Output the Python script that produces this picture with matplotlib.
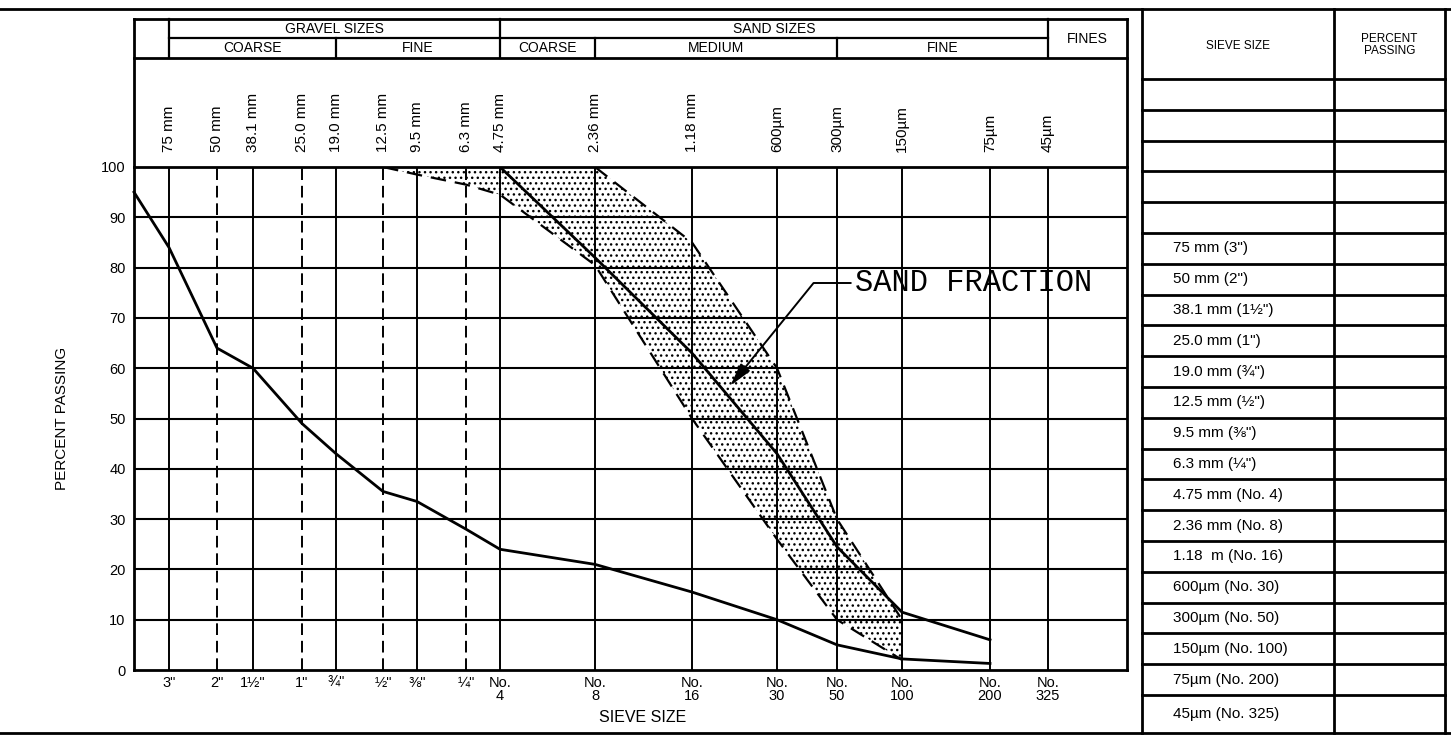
import numpy as np
import matplotlib
matplotlib.use("Agg")
import matplotlib.pyplot as plt
import matplotlib.transforms as mtransforms
from matplotlib.ticker import NullLocator

plt.rcParams['font.family'] = ['Liberation Sans', 'DejaVu Sans']
plt.rcParams['hatch.linewidth'] = 1.0

# ---- data ----
sieve_mm = [75, 50, 38.1, 25.0, 19.0, 12.5, 9.5, 6.3, 4.75, 2.36, 1.18, 0.6, 0.3, 0.15, 0.075, 0.045]
top_labels = ['75 mm', '50 mm', '38.1 mm', '25.0 mm', '19.0 mm', '12.5 mm', '9.5 mm', '6.3 mm',
              '4.75 mm', '2.36 mm', '1.18 mm', '600µm', '300µm', '150µm', '75µm', '45µm']
bottom_labels = ['3"', '2"', '1½"', '1"', '¾"', '½"', '⅜"', '¼"', 'No.\n4', 'No.\n8',
                 'No.\n16', 'No.\n30', 'No.\n50', 'No.\n100', 'No.\n200', 'No.\n325']
dashed_sieves = [50, 25.0, 12.5, 6.3]

# whole aggregate grading
agg_mm = [100, 75, 50, 38.1, 25.0, 19.0, 12.5, 9.5, 6.3, 4.75, 2.36, 1.18, 0.6, 0.3, 0.15, 0.075]
agg_pass = [95, 84, 64, 60, 49, 43, 35.5, 33.5, 28, 24, 21, 15.5, 10, 5, 2.2, 1.3]

# sand fraction grading
sand_mm = [4.75, 2.36, 1.18, 0.6, 0.3, 0.15, 0.075]
sand_pass = [100, 82, 63, 43, 24.5, 11.5, 6]

# sand band limits
band_mm = [12.5, 9.5, 6.3, 4.75, 2.36, 1.18, 0.6, 0.3, 0.15]
band_upper = [100, 100, 100, 100, 100, 85, 60, 30, 10]
band_lower = [100, 98.5, 96.5, 94.5, 80.5, 50, 26, 10, 2]

# size classes in the header
class_top = [('GRAVEL SIZES', 75, 4.75), ('SAND SIZES', 4.75, 0.045)]
class_sub = [('COARSE', 75, 19.0), ('FINE', 19.0, 4.75), ('COARSE', 4.75, 2.36),
             ('MEDIUM', 2.36, 0.3), ('FINE', 0.3, 0.045)]

table_labels = ['75 mm (3")', '50 mm (2")', '38.1 mm (1½")', '25.0 mm (1")', '19.0 mm (¾")',
                '12.5 mm (½")', '9.5 mm (⅜")', '6.3 mm (¼")', '4.75 mm (No. 4)', '2.36 mm (No. 8)',
                '1.18  m (No. 16)', '600µm (No. 30)', '300µm (No. 50)', '150µm (No. 100)',
                '75µm (No. 200)', '45µm (No. 325)']
blank_rows = 5

# ---- chart scale (the printed form is not a plain log scale) ----
scale_mm = np.array([100, 75, 50, 38.1, 25.0, 19.0, 12.5, 9.5, 6.3, 4.75, 2.36, 1.18,
                     0.6, 0.3, 0.15, 0.075, 0.045, 0.0224])
scale_pos = np.array([0, 35, 83, 119, 168, 202, 249, 283, 332, 366, 461, 558,
                      643, 703, 768, 856, 914, 993], dtype=float)
scale_key = -np.log10(scale_mm)


def _extrap(v, xp, fp):
    v = np.asarray(v, dtype=float)
    out = np.interp(v, xp, fp)
    out = np.where(v < xp[0], fp[0] + (v - xp[0]) * (fp[1] - fp[0]) / (xp[1] - xp[0]), out)
    out = np.where(v > xp[-1], fp[-1] + (v - xp[-1]) * (fp[-1] - fp[-2]) / (xp[-1] - xp[-2]), out)
    return out


def sieve_fwd(mm):
    return _extrap(-np.log10(np.clip(np.asarray(mm, dtype=float), 1e-9, None)), scale_key, scale_pos)


def sieve_inv(pos):
    return 10 ** (-_extrap(pos, scale_pos, scale_key))


def mid(a, b):
    return float(sieve_inv((sieve_fwd(a) + sieve_fwd(b)) / 2))


# ---- figure ----
W, H = 1451, 736
fig = plt.figure(figsize=(W / 100, H / 100), dpi=100)

# overlay in pixel coords for frame and right-hand table
ov = fig.add_axes([0, 0, 1, 1])
ov.set_xlim(0, W)
ov.set_ylim(H, 0)
ov.axis('off')

PX_L, PX_R, PX_T, PX_B = 134, 1127, 167, 670
ax = fig.add_axes([PX_L / W, (H - PX_B) / H, (PX_R - PX_L) / W, (PX_B - PX_T) / H])
ax.set_zorder(2)


def ay(py):
    return (PX_B - py) / (PX_B - PX_T)


ax.set_xscale('function', functions=(sieve_fwd, sieve_inv))
ax.set_xlim(0.0224, 100)
ax.set_ylim(0, 100)
ax.xaxis.set_major_locator(NullLocator())
ax.xaxis.set_minor_locator(NullLocator())
ax.set_yticks(range(0, 101, 10))
ax.tick_params(axis='y', length=0, pad=6, labelsize=10.5)
for sp in ax.spines.values():
    sp.set_linewidth(2)

# grid
for v in range(10, 100, 10):
    ax.axhline(v, color='black', lw=1.5, zorder=1)
for s in sieve_mm:
    if s in dashed_sieves:
        ax.axvline(s, color='black', lw=1.4, ls=(0, (6, 3)), zorder=1)
    else:
        ax.axvline(s, color='black', lw=1.4, zorder=1)

# sand band
ax.fill_between(band_mm, band_lower, band_upper, facecolor='none', edgecolor='black',
                hatch='...', linewidth=0, zorder=2)
ax.plot(band_mm[4:], band_upper[4:], color='black', lw=1.6, ls=(0, (7, 4)), zorder=3)
ax.plot(band_mm, band_lower, color='black', lw=1.6, ls=(0, (7, 4)), zorder=3)
ax.plot([band_mm[-1], band_mm[-1]], [band_lower[-1], band_upper[-1]], color='black',
        lw=1.2, ls=':', zorder=3)

# curves
ax.plot(agg_mm, agg_pass, color='black', lw=2.0, zorder=4, clip_on=False)
ax.plot(sand_mm, sand_pass, color='black', lw=2.0, zorder=4)

ax.annotate('SAND FRACTION', xy=(0.87, 56.5), xytext=((855 - PX_L) / (PX_R - PX_L), ay(283)),
            textcoords='axes fraction', ha='left', va='center',
            fontsize=22, family='Liberation Mono', zorder=5,
            arrowprops=dict(arrowstyle='-|>,head_length=0.7,head_width=0.18', color='black',
                            lw=1.4, shrinkA=1, shrinkB=0, mutation_scale=20,
                            connectionstyle='angle,angleA=0,angleB=51,rad=0'))

# ---- header above the plot ----
blend = mtransforms.blended_transform_factory(ax.transData, ax.transAxes)
hk = dict(color='black', clip_on=False, zorder=3)
y19, y38, y58 = ay(19), ay(38), ay(58)
ax.plot([0, 1], [y19, y19], transform=ax.transAxes, lw=2, **hk)
ax.plot([0, 1], [y58, y58], transform=ax.transAxes, lw=2, **hk)
ax.plot([0, 0], [1, y19], transform=ax.transAxes, lw=2, **hk)
ax.plot([1, 1], [1, y19], transform=ax.transAxes, lw=2, **hk)
ax.plot([75, 0.045], [y38, y38], transform=blend, lw=1.6, **hk)
for s in [75, 4.75, 0.045]:
    ax.plot([s, s], [y19, y58], transform=blend, lw=1.6, **hk)
for s in [19.0, 2.36, 0.3]:
    ax.plot([s, s], [y38, y58], transform=blend, lw=1.6, **hk)

for name, a, b in class_top:
    ax.text(mid(a, b), ay(29), name, transform=blend, ha='center', va='center', fontsize=10)
for name, a, b in class_sub:
    ax.text(mid(a, b), ay(48.5), name, transform=blend, ha='center', va='center', fontsize=10)
ax.text(mid(0.045, 0.0224), ay(39), 'FINES', transform=blend, ha='center', va='center',
        fontsize=10)

for s, lab in zip(sieve_mm, top_labels):
    ax.text(s, ay(152), lab, transform=blend, rotation=90, ha='center', va='bottom',
            fontsize=11)
for s, lab in zip(sieve_mm, bottom_labels):
    ax.text(s, ay(676), lab, transform=blend, ha='center', va='top', fontsize=10.5,
            linespacing=0.95)

ax.text((643 - PX_L) / (PX_R - PX_L), ay(718), 'SIEVE SIZE', transform=ax.transAxes,
        ha='center', va='center', fontsize=11.5)
fig.text(62 / W, (H - 418) / H, 'PERCENT PASSING', rotation=90, ha='center', va='center',
         fontsize=11)

# ---- frame and right-hand table ----
ov.plot([0, W], [9, 9], color='black', lw=2)
ov.plot([0, W], [733, 733], color='black', lw=2)

TX0, TX1, TX2 = 1142, 1334, 1445
T_TOP, T_HEAD, ROW_H, T_BOT = 9, 79, 30.8, 733
ov.plot([TX0, TX0], [T_TOP, T_BOT], color='black', lw=2)
ov.plot([TX1, TX1], [T_TOP, T_BOT], color='black', lw=2)
ov.plot([TX2, TX2], [T_TOP, T_BOT], color='black', lw=2)
ov.plot([TX0, TX2], [T_HEAD, T_HEAD], color='black', lw=2)
ov.text((TX0 + TX1) / 2, (T_TOP + T_HEAD) / 2 + 2, 'SIEVE SIZE', ha='center', va='center',
        fontsize=8.5)
ov.text((TX1 + TX2) / 2, (T_TOP + T_HEAD) / 2 + 1, 'PERCENT\nPASSING', ha='center',
        va='center', fontsize=8.5, linespacing=1.1)

rows = [''] * blank_rows + table_labels
for i, lab in enumerate(rows):
    y0 = T_HEAD + i * ROW_H
    y1 = T_BOT if i == len(rows) - 1 else y0 + ROW_H
    if i < len(rows) - 1:
        ov.plot([TX0, TX2], [y1, y1], color='black', lw=2)
    if lab:
        ov.text(TX0 + 31, (y0 + y1) / 2, lab, ha='left', va='center', fontsize=11)

fig.savefig('out.png', dpi=100, facecolor='white')
